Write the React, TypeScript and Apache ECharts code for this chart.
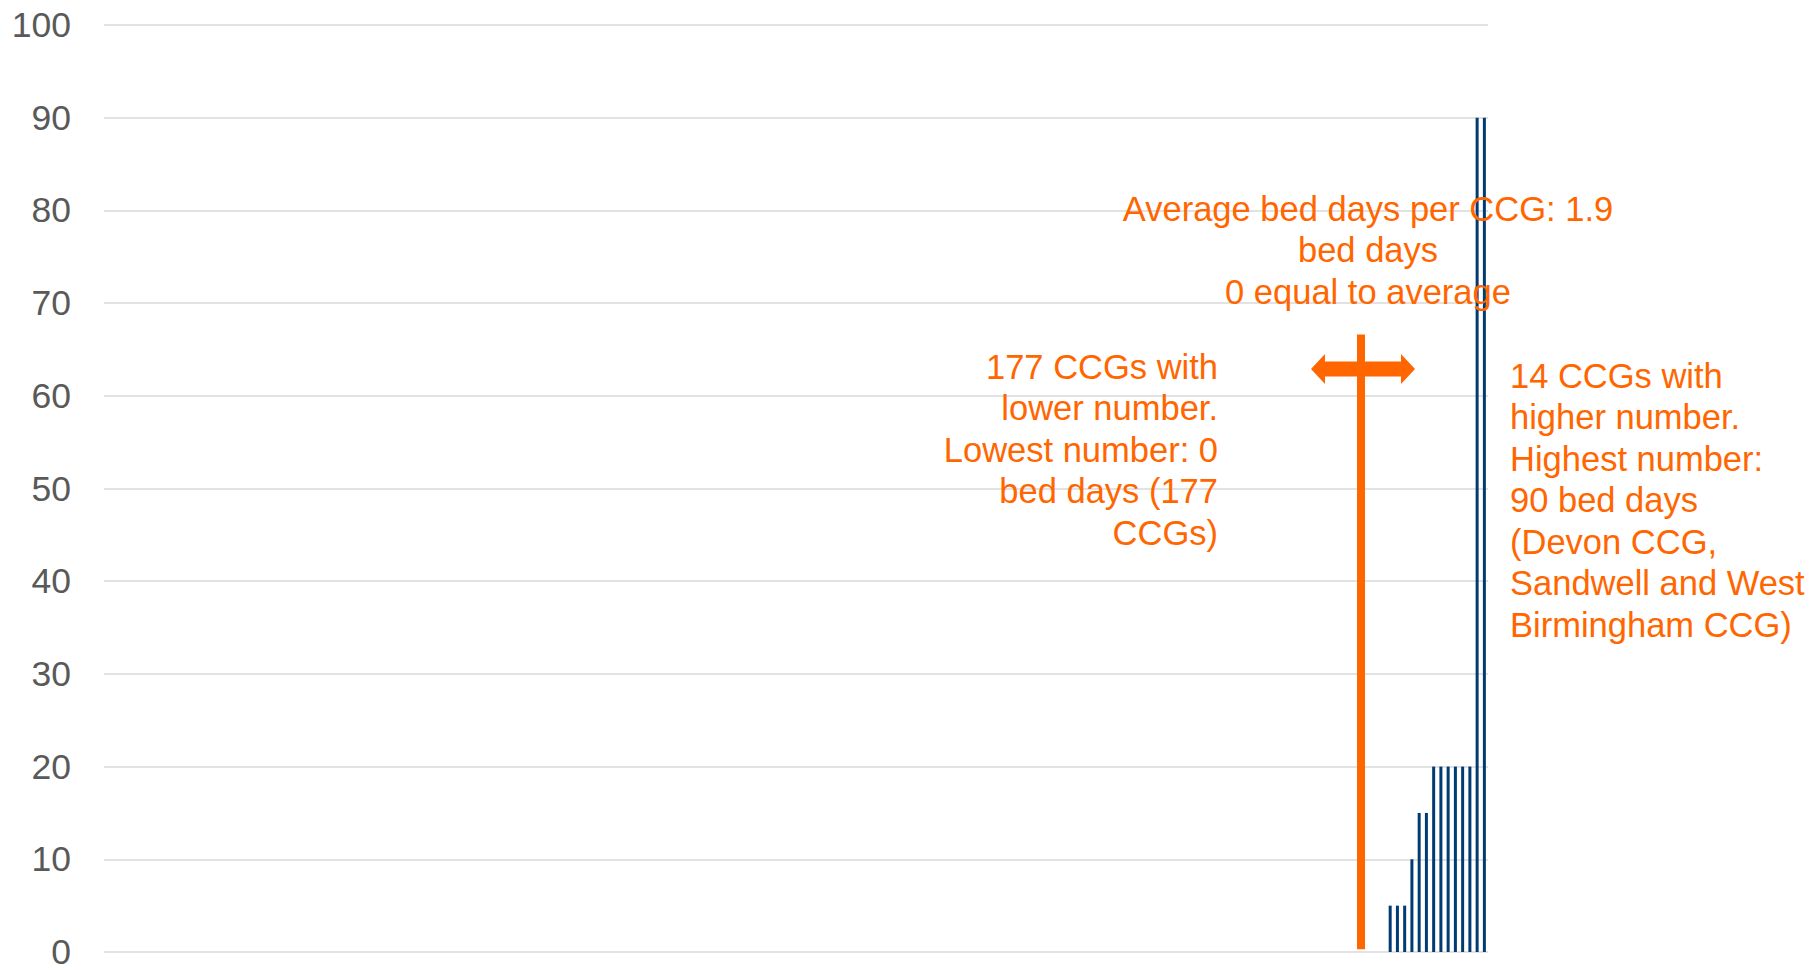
import React, { useEffect, useRef } from "react";
import * as echarts from "echarts";

const zeroCount = 177;
const higherValues = [5, 5, 5, 10, 15, 15, 20, 20, 20, 20, 20, 20, 90, 90];
const yTicks = [0, 10, 20, 30, 40, 50, 60, 70, 80, 90, 100];
const averageIndex = 173;
const averageLineRange = [0.3, 66.6];

const averageText = "Average bed days per CCG: 1.9\nbed days\n0 equal to average";
const lowerText = "177 CCGs with\nlower number.\nLowest number: 0\nbed days (177\nCCGs)";
const higherText = "14 CCGs with\nhigher number.\nHighest number:\n90 bed days\n(Devon CCG,\nSandwell and West\nBirmingham CCG)";

const values: number[] = [];
for (let i = 0; i < zeroCount; i++) values.push(0);
higherValues.forEach((v) => values.push(v));
const categories = values.map((_, i) => String(i + 1));

const ORANGE = "#FF6600";
const BLUE = "#003B73";
const FONT = "'Liberation Sans', Arial, sans-serif";
const TXT = 34.5;

export default function App() {
  const ref = useRef<HTMLDivElement>(null);
  useEffect(() => {
    if (!ref.current) return;
    const chart = echarts.init(ref.current, undefined, { renderer: "svg" });
    const cx = 1363;
    const cy = 369;
    const arrowPts = [
      [-52, 0], [-38, -15], [-38, -7.5], [38, -7.5], [38, -15],
      [52, 0], [38, 15], [38, 7.5], [-38, 7.5], [-38, 15],
    ].map(([x, y]) => [cx + x, cy + y]);
    chart.setOption({
      animation: false,
      grid: { left: 104, right: 326, top: 25, bottom: 13, containLabel: false },
      xAxis: {
        type: "category",
        data: categories,
        axisLine: { show: false },
        axisTick: { show: false },
        axisLabel: { show: false },
        splitLine: { show: false },
      },
      yAxis: {
        type: "value",
        min: yTicks[0],
        max: yTicks[yTicks.length - 1],
        interval: 10,
        axisLine: { show: false },
        axisTick: { show: false },
        axisLabel: {
          color: "#595959",
          fontSize: 35.5,
          fontFamily: FONT,
          margin: 33,
        },
        splitLine: { lineStyle: { color: "#D9D9D9", width: 1.5 } },
      },
      series: [
        {
          type: "bar",
          data: values,
          barWidth: 3,
          itemStyle: { color: BLUE },
          markLine: {
            silent: true,
            symbol: ["none", "none"],
            label: { show: false },
            lineStyle: { color: ORANGE, width: 8, type: "solid" },
            data: [
              [
                { coord: [averageIndex, averageLineRange[0]] },
                { coord: [averageIndex, averageLineRange[1]] },
              ],
            ],
          },
        },
      ],
      graphic: [
        {
          type: "polygon",
          shape: { points: arrowPts },
          style: { fill: ORANGE },
          z: 100,
        },
        {
          type: "text",
          x: 1368,
          y: 188,
          style: {
            text: averageText,
            fill: ORANGE,
            font: `${TXT}px ${FONT}`,
            lineHeight: 41.5,
            align: "center",
            verticalAlign: "top",
          },
          z: 100,
        },
        {
          type: "text",
          x: 1218,
          y: 346,
          style: {
            text: lowerText,
            fill: ORANGE,
            font: `${TXT}px ${FONT}`,
            lineHeight: 41.5,
            align: "right",
            verticalAlign: "top",
          },
          z: 100,
        },
        {
          type: "text",
          x: 1510,
          y: 355,
          style: {
            text: higherText,
            fill: ORANGE,
            font: `${TXT}px ${FONT}`,
            lineHeight: 41.5,
            align: "left",
            verticalAlign: "top",
          },
          z: 100,
        },
      ],
    });
    return () => chart.dispose();
  }, []);
  return (
    <div
      ref={ref}
      style={{ position: "fixed", left: 0, top: 0, width: 1814, height: 970, background: "#fff" }}
    />
  );
}
